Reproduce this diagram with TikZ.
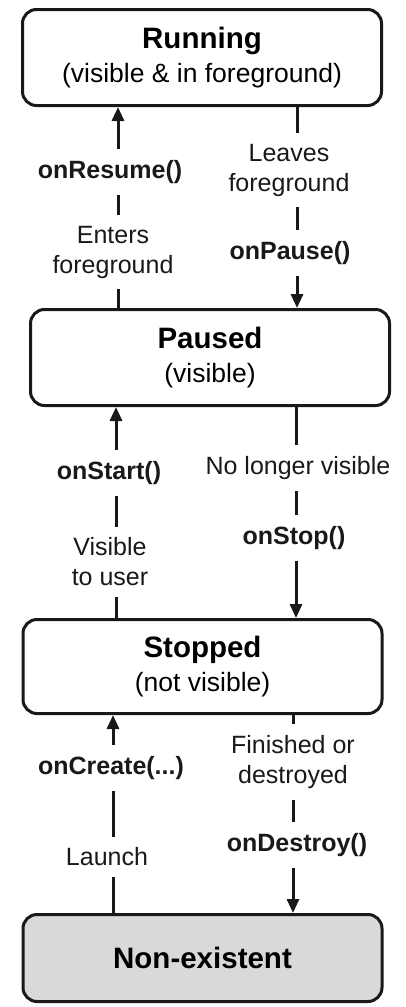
\documentclass[tikz,border=0pt]{standalone}
\usepackage{fontspec}
\setmainfont{Liberation Sans}
\usetikzlibrary{arrows.meta}
\newcommand\ttlfont{\fontsize{29.5}{34}\selectfont\bfseries}
\newcommand\subfont{\fontsize{26.5}{34}\selectfont}
\newcommand\labfont{\fontsize{25}{30}\selectfont}
\begin{document}
\begin{tikzpicture}[x=1pt,y=-1pt,
  state/.style={draw=black!90, line width=3pt, rounded corners=14pt,
    minimum width=359pt, minimum height=96pt, align=center, inner sep=0pt,
    fill=white, font=\subfont},
  arr/.style={draw=black!90, line width=3pt, -{Triangle[length=14pt,width=12pt]}},
  lab/.style={fill=white, inner xsep=4pt, inner ysep=11pt, align=center, font=\labfont, text=black!90},
  blab/.style={lab, font=\labfont\bfseries}]
\useasboundingbox (0,0) rectangle (405,1007);

\node[state] (running) at (202,57.5) {{\ttlfont Running}\\{\subfont (visible \& in foreground)}};
\node[state] (paused) at (210,357.5) {{\ttlfont Paused}\\{\subfont (visible)}};
\node[state, minimum height=94pt] (stopped) at (202.5,666.5) {{\ttlfont Stopped}\\{\subfont (not visible)}};
\node[state, minimum height=87pt, fill=black!15, font=\ttlfont] (none) at (202.5,958) {Non-existent};

\coordinate (x1) at (118,0);
\coordinate (x2) at (297,0);
\coordinate (x3) at (116,0);
\coordinate (x4) at (296,0);
\coordinate (x5) at (113,0);
\coordinate (x6) at (293,0);

\draw[arr] (paused.north -| x1) -- (running.south -| x1);
\draw[arr] (running.south -| x2) -- (paused.north -| x2);
\draw[arr] (stopped.north -| x3) -- (paused.south -| x3);
\draw[arr] (paused.south -| x4) -- (stopped.north -| x4);
\draw[arr] (none.north -| x5) -- (stopped.south -| x5);
\draw[arr] (stopped.south -| x6) -- (none.north -| x6);

\node[blab] (onresume) at (110,172) {onResume()};
\node[lab] (enters) at (113,252) {Enters\\foreground};
\node[lab] (leaves) at (289,170) {Leaves\\foreground};
\node[blab] (onpause) at (290,253) {onPause()};

\node[blab] (onstart) at (109,473) {onStart()};
\node[lab] (visible) at (110,562) {Visible\\to user};
\node[lab] (nolonger) at (298,468) {No longer visible};
\node[blab] (onstop) at (294,538) {onStop()};

\node[blab] (oncreate) at (111,768) {onCreate(...)};
\node[lab] (launch) at (107,857) {Launch};
\node[lab] (finished) at (293,762) {Finished or\\destroyed};
\node[blab] (ondestroy) at (297,845) {onDestroy()};
\end{tikzpicture}
\end{document}
